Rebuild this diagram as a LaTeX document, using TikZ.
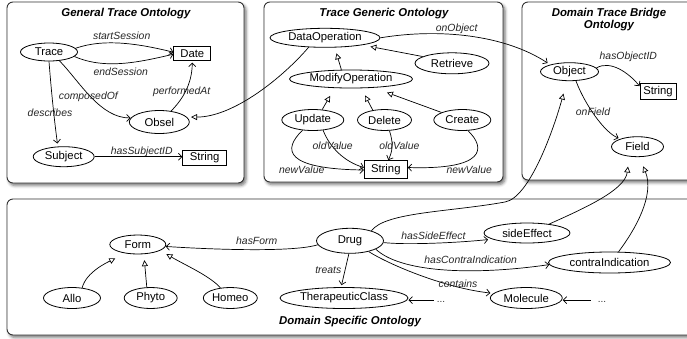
\documentclass[tikz,border=0pt]{standalone}
\usepackage{fontspec}
\newfontfamily\lsans{Liberation Sans}
\usetikzlibrary{shapes.geometric,arrows.meta,shadows.blur}
\begin{document}
\begin{tikzpicture}[x=1pt,y=-1pt,
  panel/.style={draw=black!80, line width=0.9pt, fill=white, rounded corners=6pt,
    blur shadow={shadow xshift=2pt,shadow yshift=-2.5pt,shadow blur radius=3pt,shadow opacity=55}},
  ttl/.style={font=\lsans\bfseries\itshape\fontsize{11.4}{12}\selectfont, align=center, inner sep=0pt},
  ell/.style={ellipse, draw, line width=0.8pt, fill=white, inner sep=0pt, font=\lsans\fontsize{11.3}{13}\selectfont},
  rbox/.style={rectangle, draw, line width=0.8pt, fill=white, inner sep=0pt, font=\lsans\fontsize{11.3}{13}\selectfont},
  lbl/.style={font=\lsans\itshape\fontsize{10.4}{12}\selectfont, text=black!85, inner sep=0pt},
  dots/.style={font=\lsans\fontsize{10}{12}\selectfont, text=black!80, inner ysep=0pt, anchor=base},
  prop/.style={line width=0.7pt, -{Straight Barb[length=3.5pt,width=7pt]}},
  sub/.style={line width=0.7pt, -{Triangle[length=6pt,width=6pt,fill=white]}},
]
\useasboundingbox (0,0) rectangle (687,338);
\clip (0,0) rectangle (687,338);

% panels
\draw[panel] (7,2) rectangle (244,183);
\draw[panel] (264,2) rectangle (503,182);
\draw[panel] (522,2) rectangle (705,180);
\draw[panel] (7,199) rectangle (705,335);

% titles
\node[ttl] (t1) at (126,14) {General Trace Ontology};
\node[ttl] (t2) at (384,14) {Trace Generic Ontology};
\node[ttl] (t3) at (609,19.5) {Domain Trace Bridge\\Ontology};
\node[ttl] (t4) at (350,322) {Domain Specific Ontology};

% General Trace Ontology
\node[ell, minimum width=57pt, minimum height=18pt] (Trace) at (49,52) {Trace};
\node[rbox, minimum width=37pt, minimum height=14pt] (Date) at (192.3,53.7) {Date};
\node[ell, minimum width=60pt, minimum height=23pt] (Obsel) at (159.3,122) {Obsel};
\node[ell, minimum width=61pt, minimum height=20pt] (Subject) at (63.7,156.7) {Subject};
\node[rbox, minimum width=44pt, minimum height=15pt] (StrG) at (204.7,157.5) {String};

% Trace Generic Ontology
\node[ell, minimum width=110pt, minimum height=19pt] (DataOperation) at (325,37.8) {DataOperation};
\node[ell, minimum width=74pt, minimum height=21pt] (Retrieve) at (452,63.3) {Retrieve};
\node[ell, minimum width=123pt, minimum height=18pt] (ModifyOperation) at (351,79) {ModifyOperation};
\node[ell, minimum width=62pt, minimum height=21pt] (Update) at (312.8,120) {Update};
\node[ell, minimum width=54pt, minimum height=21pt] (Delete) at (384.5,120) {Delete};
\node[ell, minimum width=57pt, minimum height=21pt] (Create) at (462.3,120) {Create};
\node[rbox, minimum width=43pt, minimum height=18pt] (StrT) at (385.8,169.5) {String};

% Domain Trace Bridge Ontology
\node[ell, minimum width=58pt, minimum height=18pt] (Object) at (569.5,71.7) {Object};
\node[rbox, minimum width=36pt, minimum height=16pt] (StrB) at (658,91.5) {String};
\node[ell, minimum width=52pt, minimum height=20pt] (Field) at (637.5,146.7) {Field};

% Domain Specific Ontology
\node[ell, minimum width=56pt, minimum height=19pt] (Form) at (137.8,244.5) {Form};
\node[ell, minimum width=57pt, minimum height=21pt] (Allo) at (72,298) {Allo};
\node[ell, minimum width=53pt, minimum height=21pt] (Phyto) at (150.7,298) {Phyto};
\node[ell, minimum width=54pt, minimum height=21pt] (Homeo) at (230.3,298) {Homeo};
\node[ell, minimum width=128pt, minimum height=21pt] (TherapeuticClass) at (344,298) {TherapeuticClass};
\node[ell, minimum width=67pt, minimum height=25pt] (Drug) at (350,240.8) {Drug};
\node[ell, minimum width=86pt, minimum height=20pt] (sideEffect) at (527,233) {sideEffect};
\node[ell, minimum width=122pt, minimum height=21pt] (contraIndication) at (609.5,262.5) {contraIndication};
\node[ell, minimum width=72pt, minimum height=21pt] (Molecule) at (526.3,298) {Molecule};
\node[dots, inner xsep=3pt] (dd1) at (441,302.5) {\strut...};
\node[dots, inner xsep=7pt] (dd2) at (602,302.5) {\strut...};

% GTO connectors
\draw[prop] (Trace.8) .. controls (105,38) and (140,44) .. ([yshift=1.5pt]Date.west);
\draw[prop] (Trace.-10) .. controls (105,70) and (140,62) .. ([yshift=-0.5pt]Date.west);
\draw[prop] (Trace.-40) .. controls (80,82) and (100,118) .. (Obsel.172);
\draw[prop, shorten >=3pt] (Trace.-90) .. controls (52,100) and (55,125) .. (Subject.120);
\draw[prop, shorten >=1.5pt] (Obsel.43) .. controls (182,100) and (192,85) .. (Date.south);
\draw[prop] (Subject.east) -- (Subject.east -| StrG.west);
\draw[sub, shorten >=4pt] (DataOperation.-150) .. controls (285,75) and (235,117) .. (Obsel.10);

% TGO connectors
\draw[sub, shorten >=8pt] (Retrieve.167) -- (DataOperation.-11);
\draw[sub, shorten >=6pt] (ModifyOperation.136) -- (DataOperation.-45);
\draw[sub, shorten >=9pt] (Update.48) -- (ModifyOperation.-151);
\draw[sub, shorten >=8pt] (Delete.140) -- (ModifyOperation.-42);
\draw[sub, shorten >=14pt] (Create.160) -- (ModifyOperation.-21);
\draw[prop] (Update.-45) .. controls (330,148) and (345,162) .. ([yshift=2pt]StrT.west);
\draw[prop] (Update.-135) .. controls (282,150) and (285,169) .. ([yshift=-0.5pt]StrT.west);
\draw[prop] (Delete.-65) .. controls (394,145) and (392,152) .. ([xshift=2.5pt]StrT.north);
\draw[prop] (Create.-62) .. controls (486,148) and (486,170) .. ([yshift=2pt]StrT.east);
\draw[prop, shorten >=3pt] (DataOperation.east) .. controls (440,28) and (505,35) .. (Object.160);

% Bridge connectors
\draw[prop] (Object.8) .. controls (610,60) and (628,72) .. ([yshift=-3pt]StrB.north west);
\draw[prop, shorten >=2pt] (Object.-55) .. controls (585,105) and (605,133) .. (Field.155);

% DSO connectors
\draw[prop] (Drug.187) .. controls (295,252) and (220,250) .. (Form.-4);
\draw[prop, shorten >=2pt] (Drug.-95) -- (TherapeuticClass.105);
\draw[prop, shorten >=4pt] (Drug.-3) .. controls (405,245) and (455,243) .. (sideEffect.-170);
\draw[prop] (Drug.-18) .. controls (400,272) and (470,276) .. (contraIndication.-178);
\draw[prop, shorten >=3pt] (Drug.-30) .. controls (390,265) and (445,288) .. (Molecule.172);
\draw[prop] (dd1.west) -- (dd1.west -| TherapeuticClass.east);
\draw[prop] (dd2.west) -- (dd2.west -| Molecule.east);
\draw[sub, shorten >=13pt] (Drug.25) .. controls (385,212) and (450,212) .. (505,202)
   .. controls (530,197.5) and (554,128) .. (Object.-105);
\draw[sub, shorten >=10pt] (sideEffect.22) .. controls (585,208) and (625,190) .. (Field.-130);
\draw[sub, shorten >=10pt] (contraIndication.50) .. controls (635,230) and (655,195) .. (Field.-80);
\draw[sub, shorten >=11pt] (Allo.45) .. controls (86,272) and (108,262) .. (Form.-145);
\draw[sub, shorten >=6pt] (Phyto.110) -- (Form.-58);
\draw[sub, shorten >=7pt] (Homeo.134) .. controls (210,276) and (185,265) .. (Form.-15);

% labels
\node[lbl] (lstart) at (121.7,36) {startSession};
\node[lbl] (lend) at (120.7,71.7) {endSession};
\node[lbl] (lcomp) at (88.3,97.3) {composedOf};
\node[lbl] (ldesc) at (50,112.7) {describes};
\node[lbl] (lperf) at (181.7,91.7) {performedAt};
\node[lbl] (lsubj) at (141.7,151.7) {hasSubjectID};
\node[lbl] (lonobj) at (456.7,29.3) {onObject};
\node[lbl] (lold1) at (332.7,146) {oldValue};
\node[lbl] (lold2) at (399.3,146) {oldValue};
\node[lbl] (lnew1) at (301.7,169.3) {newValue};
\node[lbl] (lnew2) at (469.2,169.3) {newValue};
\node[lbl] (lobjid) at (628.3,56.7) {hasObjectID};
\node[lbl] (lfield) at (593,111.7) {onField};
\node[lbl] (lform) at (256.7,240.7) {hasForm};
\node[lbl] (ltreats) at (328.3,270) {treats};
\node[lbl] (lside) at (433.5,235.7) {hasSideEffect};
\node[lbl] (lcontra) at (470.7,260) {hasContraIndication};
\node[lbl] (lcont) at (458,283.3) {contains};
\end{tikzpicture}
\end{document}
